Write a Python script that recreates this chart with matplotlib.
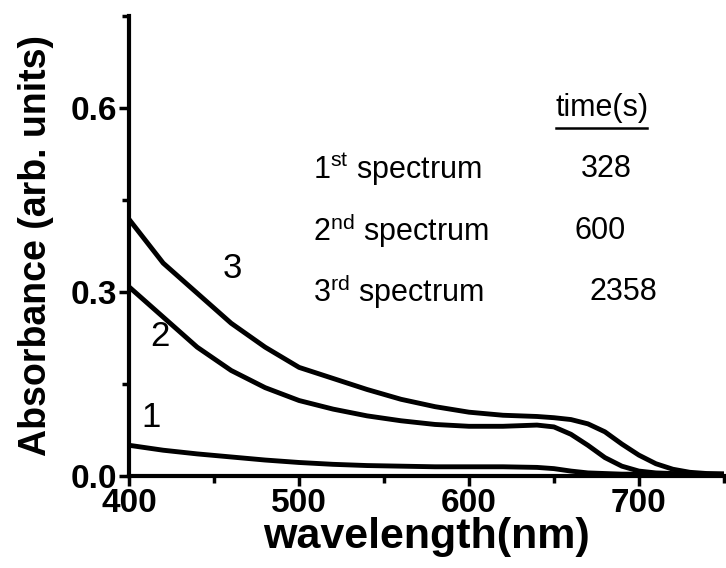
import numpy as np
import matplotlib
matplotlib.use('Agg')
import matplotlib.pyplot as plt
from matplotlib.ticker import MultipleLocator

plt.rcParams['font.family'] = ['Liberation Sans', 'DejaVu Sans']

# wavelength grid (nm) and absorbance
wl = [400, 420, 440, 460, 480, 500, 520, 540, 560, 580, 600, 620, 640,
      650, 660, 670, 680, 690, 700, 710, 720, 730, 740, 750]
spec1 = [0.050, 0.042, 0.036, 0.031, 0.026, 0.022, 0.019, 0.017, 0.016, 0.015,
         0.015, 0.015, 0.014, 0.012, 0.008, 0.005, 0.004, 0.003, 0.003, 0.003,
         0.003, 0.003, 0.003, 0.003]
spec2 = [0.308, 0.259, 0.210, 0.172, 0.144, 0.123, 0.109, 0.098, 0.090, 0.084,
         0.081, 0.081, 0.083, 0.080, 0.068, 0.050, 0.030, 0.016, 0.008, 0.005,
         0.004, 0.003, 0.003, 0.003]
spec3 = [0.418, 0.347, 0.298, 0.249, 0.210, 0.177, 0.159, 0.141, 0.125, 0.113,
         0.104, 0.099, 0.097, 0.095, 0.092, 0.085, 0.072, 0.052, 0.034, 0.020,
         0.011, 0.006, 0.004, 0.003]

curve_labels = ['1', '2', '3']
label_pos = [(413, 0.095), (418, 0.228), (461, 0.338)]
rows = ['1$^{\\mathregular{st}}$ spectrum', '2$^{\\mathregular{nd}}$ spectrum',
        '3$^{\\mathregular{rd}}$ spectrum']
times = ['328', '600', '2358']
time_x = [666, 662, 671]

fig = plt.figure(figsize=(7.26, 5.68), dpi=100)
ax = fig.add_axes([0.178, 0.162, 0.819, 0.81])

for s in (spec1, spec2, spec3):
    ax.plot(wl, s, color='black', lw=3.5, solid_capstyle='round')

ax.set_xlim(400, 750)
ax.set_ylim(0, 0.75)
ax.xaxis.set_major_locator(MultipleLocator(100))
ax.xaxis.set_minor_locator(MultipleLocator(50))
ax.yaxis.set_major_locator(MultipleLocator(0.3))
ax.yaxis.set_minor_locator(MultipleLocator(0.15))
ax.set_yticks([0.0, 0.3, 0.6])
ax.set_yticklabels(['0.0', '0.3', '0.6'])

for sp in ['top', 'right']:
    ax.spines[sp].set_visible(False)
for sp in ['left', 'bottom']:
    ax.spines[sp].set_linewidth(3)

ax.tick_params(which='major', direction='out', length=7, width=2.5,
               labelsize=24, pad=2)
ax.tick_params(which='minor', direction='out', length=5, width=2.5)
for t in ax.get_xticklabels() + ax.get_yticklabels():
    t.set_fontweight('bold')

ax.set_xlabel('wavelength(nm)', fontsize=31, fontweight='bold', labelpad=-2)
ax.set_ylabel('Absorbance (arb. units)', fontsize=27, fontweight='bold',
              labelpad=12)

for lab, (x, y) in zip(curve_labels, label_pos):
    ax.text(x, y, lab, fontsize=25, ha='center', va='center')

ax.text(651, 0.6, 'time(s)', fontsize=22, ha='left', va='center')
ax.plot([651, 705], [0.568, 0.568], color='black', lw=1.8)
for i, (r, t, tx) in enumerate(zip(rows, times, time_x)):
    yc = 0.5 - i * 0.1
    ax.text(508, yc, r, fontsize=22, ha='left', va='center')
    ax.text(tx, yc, t, fontsize=22, ha='left', va='center')

fig.savefig('out.png', dpi=100)
